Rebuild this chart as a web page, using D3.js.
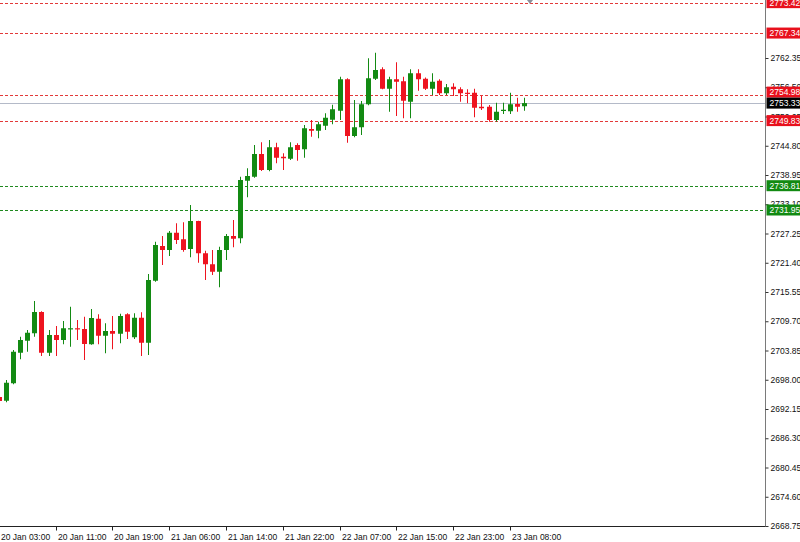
<!DOCTYPE html>
<html>
<head>
<meta charset="utf-8">
<script src="https://cdn.jsdelivr.net/npm/d3@7/dist/d3.min.js"></script>
<style>
  html, body { margin: 0; padding: 0; background: #fff; }
  svg { display: block; }
  text { font-family: "Liberation Sans", Arial, sans-serif; }
</style>
</head>
<body>
<svg id="chart" width="800" height="542"></svg>
<script>
// ---------- DATA ----------
const categories = [
  "20 Jan 03:00","20 Jan 04:00","20 Jan 05:00","20 Jan 06:00","20 Jan 07:00","20 Jan 08:00","20 Jan 09:00","20 Jan 10:00",
  "20 Jan 11:00","20 Jan 12:00","20 Jan 13:00","20 Jan 14:00","20 Jan 15:00","20 Jan 16:00","20 Jan 17:00","20 Jan 18:00",
  "20 Jan 19:00","20 Jan 20:00","20 Jan 21:00","21 Jan 01:00","21 Jan 02:00","21 Jan 03:00","21 Jan 04:00","21 Jan 05:00",
  "21 Jan 06:00","21 Jan 07:00","21 Jan 08:00","21 Jan 09:00","21 Jan 10:00","21 Jan 11:00","21 Jan 12:00","21 Jan 13:00",
  "21 Jan 14:00","21 Jan 15:00","21 Jan 16:00","21 Jan 17:00","21 Jan 18:00","21 Jan 19:00","21 Jan 20:00","21 Jan 21:00",
  "21 Jan 22:00","21 Jan 23:00","22 Jan 01:00","22 Jan 02:00","22 Jan 03:00","22 Jan 04:00","22 Jan 05:00","22 Jan 06:00",
  "22 Jan 07:00","22 Jan 08:00","22 Jan 09:00","22 Jan 10:00","22 Jan 11:00","22 Jan 12:00","22 Jan 13:00","22 Jan 14:00",
  "22 Jan 15:00","22 Jan 16:00","22 Jan 17:00","22 Jan 18:00","22 Jan 19:00","22 Jan 20:00","22 Jan 21:00","22 Jan 22:00",
  "22 Jan 23:00","23 Jan 01:00","23 Jan 02:00","23 Jan 03:00","23 Jan 04:00","23 Jan 05:00","23 Jan 06:00","23 Jan 07:00",
  "23 Jan 08:00","23 Jan 09:00","23 Jan 10:00"
];
const openValues = [
  2694.55,2693.80,2697.30,2703.40,2705.80,2707.30,2711.55,2703.40,2706.95,2705.95,
  2708.10,2708.30,2708.15,2705.10,2710.20,2706.80,2707.75,2707.20,2711.10,2706.50,
  2710.40,2705.40,2717.80,2724.75,2723.95,2727.40,2726.10,2724.15,2729.75,2723.30,
  2721.10,2719.60,2723.95,2726.75,2726.30,2737.80,2738.60,2743.15,2739.95,2744.50,
  2742.60,2742.20,2744.95,2744.10,2748.15,2747.80,2748.80,2750.00,2751.80,2758.10,
  2746.75,2748.50,2753.10,2758.20,2760.10,2756.20,2758.10,2757.70,2753.60,2759.30,
  2758.20,2756.20,2757.80,2755.30,2756.60,2756.10,2755.40,2755.40,2752.60,2752.60,
  2749.95,2751.75,2751.70,2753.15,2752.70
];
const highValues = [
  2695.10,2697.95,2703.95,2706.60,2707.95,2713.75,2711.70,2707.95,2708.75,2709.75,
  2712.60,2709.95,2710.60,2712.15,2711.10,2709.30,2710.75,2711.20,2711.30,2711.30,
  2711.50,2719.15,2725.60,2726.75,2727.75,2729.30,2729.50,2732.95,2729.80,2723.80,
  2723.95,2724.60,2727.15,2729.95,2738.60,2740.30,2744.95,2745.50,2745.95,2745.40,
  2743.30,2745.50,2745.30,2748.95,2749.95,2749.60,2751.30,2753.00,2758.60,2758.30,
  2753.95,2753.75,2762.30,2763.40,2760.50,2758.60,2761.50,2758.60,2760.10,2760.10,
  2758.45,2759.30,2758.10,2757.15,2757.30,2756.50,2756.10,2756.20,2754.75,2752.95,
  2753.40,2753.40,2755.40,2754.40,2754.40
];
const lowValues = [
  2693.30,2693.50,2697.10,2702.10,2703.60,2706.60,2702.75,2702.75,2702.75,2705.10,
  2704.60,2705.95,2701.95,2705.00,2705.10,2703.30,2704.10,2705.30,2706.15,2706.15,
  2702.75,2702.95,2717.60,2720.95,2722.75,2725.15,2723.60,2722.50,2721.40,2717.95,
  2718.95,2716.50,2721.95,2724.50,2725.30,2734.50,2738.40,2739.75,2739.70,2741.30,
  2739.95,2741.95,2741.80,2742.40,2746.60,2746.30,2747.95,2749.10,2749.95,2745.40,
  2746.50,2746.95,2752.90,2757.95,2756.10,2751.60,2750.75,2750.30,2750.30,2755.80,
  2755.95,2754.95,2754.95,2754.95,2754.75,2753.60,2753.30,2750.50,2751.95,2749.60,
  2749.60,2751.15,2751.15,2751.60,2751.80
];
const closeValues = [
  2693.75,2697.40,2703.60,2705.95,2707.40,2711.55,2703.40,2706.95,2705.95,2708.30,
  2708.30,2708.10,2705.15,2710.35,2706.80,2707.75,2707.20,2710.75,2707.60,2710.40,
  2705.40,2717.95,2724.95,2723.95,2727.40,2725.95,2723.95,2729.75,2723.30,2721.10,
  2719.60,2723.95,2726.75,2726.20,2737.95,2738.75,2743.15,2739.95,2744.50,2742.40,
  2742.30,2744.50,2743.95,2748.30,2747.80,2749.10,2750.40,2752.10,2758.10,2746.75,
  2748.50,2753.10,2758.30,2759.95,2756.20,2758.10,2757.60,2753.80,2759.30,2758.10,
  2756.20,2757.60,2755.30,2756.50,2756.10,2755.30,2755.30,2752.40,2752.30,2749.95,
  2751.60,2752.00,2753.10,2752.60,2753.33
];
const priceTicks = [2668.75,2674.60,2680.45,2686.30,2692.15,2698.00,2703.85,2709.70,2715.55,
  2721.40,2727.25,2733.10,2738.95,2744.80,2750.65,2756.50,2762.35];
const timeTickLabels = ["20 Jan 03:00","20 Jan 11:00","20 Jan 19:00","21 Jan 06:00","21 Jan 14:00",
  "21 Jan 22:00","22 Jan 07:00","22 Jan 15:00","22 Jan 23:00","23 Jan 08:00"];
const resistanceLevels = [2773.42, 2767.34, 2754.98, 2749.83];
const supportLevels = [2736.81, 2731.95];
const currentPrice = 2753.33;

// ---------- LAYOUT ----------
const W = 800, H = 542;
const plotRight = 765, plotBottom = 526;
const svg = d3.select("#chart");
svg.append("rect").attr("width", W).attr("height", H).attr("fill", "#fff");

const x = d3.scaleLinear().domain([1, categories.length - 1]).range([6, 524]);
const y = d3.scaleLinear().domain([2668.75, 2773.95]).range([plotBottom, 0]);

const UP = "#138a13", DOWN = "#ee1420";
const RES = "#e23a3a", SUP = "#1f8a1f";

const plot = svg.append("g");
plot.append("clipPath").attr("id", "clip").append("rect")
  .attr("x", 0).attr("y", 0).attr("width", plotRight).attr("height", plotBottom);
const pg = plot.append("g").attr("clip-path", "url(#clip)");

// level lines
const levels = resistanceLevels.map(v => ({v, c: RES})).concat(supportLevels.map(v => ({v, c: SUP})));
pg.selectAll("line.level").data(levels).join("line")
  .attr("class", "level")
  .attr("x1", 0).attr("x2", plotRight)
  .attr("y1", d => Math.round(y(d.v)) + 0.5).attr("y2", d => Math.round(y(d.v)) + 0.5)
  .attr("stroke", d => d.c).attr("stroke-width", 1).attr("stroke-dasharray", "3,2");

// current price line
pg.append("line")
  .attr("x1", 0).attr("x2", plotRight)
  .attr("y1", Math.round(y(currentPrice)) + 0.5).attr("y2", Math.round(y(currentPrice)) + 0.5)
  .attr("stroke", "#b4bac8").attr("stroke-width", 1);

// candles
const bars = categories.map((t, i) => ({
  i, t, o: openValues[i], h: highValues[i], l: lowValues[i], c: closeValues[i]
}));
const cg = pg.selectAll("g.candle").data(bars).join("g").attr("class", "candle");
cg.append("line")
  .attr("x1", d => Math.round(x(d.i)) + 0.5).attr("x2", d => Math.round(x(d.i)) + 0.5)
  .attr("y1", d => y(d.h)).attr("y2", d => y(d.l))
  .attr("stroke", d => d.c >= d.o ? UP : DOWN).attr("stroke-width", 1);
cg.append("rect")
  .attr("x", d => Math.round(x(d.i)) - 2)
  .attr("width", 5)
  .attr("y", d => y(Math.max(d.o, d.c)))
  .attr("height", d => Math.max(1.2, Math.abs(y(d.o) - y(d.c))))
  .attr("fill", d => d.c >= d.o ? UP : DOWN);

// shift marker at top
const markX = 530;
svg.append("path")
  .attr("d", `M${markX - 3},0 L${markX + 3},0 L${markX},4 Z`)
  .attr("fill", "#8a8f9a");

// axes lines
svg.append("line").attr("x1", plotRight + 0.5).attr("x2", plotRight + 0.5)
  .attr("y1", 0).attr("y2", plotBottom + 0.5).attr("stroke", "#7a7a7a");
svg.append("line").attr("x1", 0).attr("x2", plotRight + 0.5)
  .attr("y1", plotBottom + 0.5).attr("y2", plotBottom + 0.5).attr("stroke", "#222");

// right price axis
const yAxis = d3.axisRight(y).tickValues(priceTicks).tickSize(3).tickPadding(2)
  .tickFormat(d3.format(".2f"));
const ya = svg.append("g").attr("transform", `translate(${plotRight + 0.5},0)`).call(yAxis);
ya.select(".domain").remove();
ya.selectAll(".tick line").attr("stroke", "#333");
ya.selectAll(".tick text").attr("font-size", "8.5px").attr("fill", "#111")
  .attr("font-family", "'Liberation Sans', Arial, sans-serif");

// bottom time axis
const tickIdx = timeTickLabels.map(s => categories.indexOf(s));
const xa = svg.append("g");
xa.selectAll("line").data(tickIdx).join("line")
  .attr("x1", d => Math.round(x(d)) + 0.5).attr("x2", d => Math.round(x(d)) + 0.5)
  .attr("y1", plotBottom + 0.5).attr("y2", plotBottom + 4.5)
  .attr("stroke", "#222");
xa.selectAll("text").data(tickIdx).join("text")
  .attr("x", d => Math.max(0, Math.round(x(d)) + 2))
  .attr("y", 539.5)
  .attr("font-size", "8.5px").attr("fill", "#111")
  .text(d => categories[d]);

// price label boxes (current price first, others pushed off it)
const boxH = 11;
const curY = y(currentPrice);
const labels = [{v: currentPrice, c: "#000", cy: curY}].concat(levels.map(d => {
  let cy = y(d.v);
  if (Math.abs(cy - curY) < boxH) cy = cy < curY ? curY - boxH : curY + boxH;
  return {v: d.v, c: d.c === RES ? "#e8101c" : "#128a12", cy};
}));
const lg = svg.selectAll("g.plabel").data(labels.slice().reverse()).join("g").attr("class", "plabel");
lg.append("rect")
  .attr("x", plotRight + 1.5).attr("width", W - plotRight)
  .attr("y", d => d.cy - boxH / 2).attr("height", boxH)
  .attr("fill", d => d.c);
lg.append("text")
  .attr("x", plotRight + 4.5).attr("y", d => d.cy + 3.2)
  .attr("font-size", "8.5px").attr("fill", "#fff")
  .text(d => d3.format(".2f")(d.v));
</script>
</body>
</html>
